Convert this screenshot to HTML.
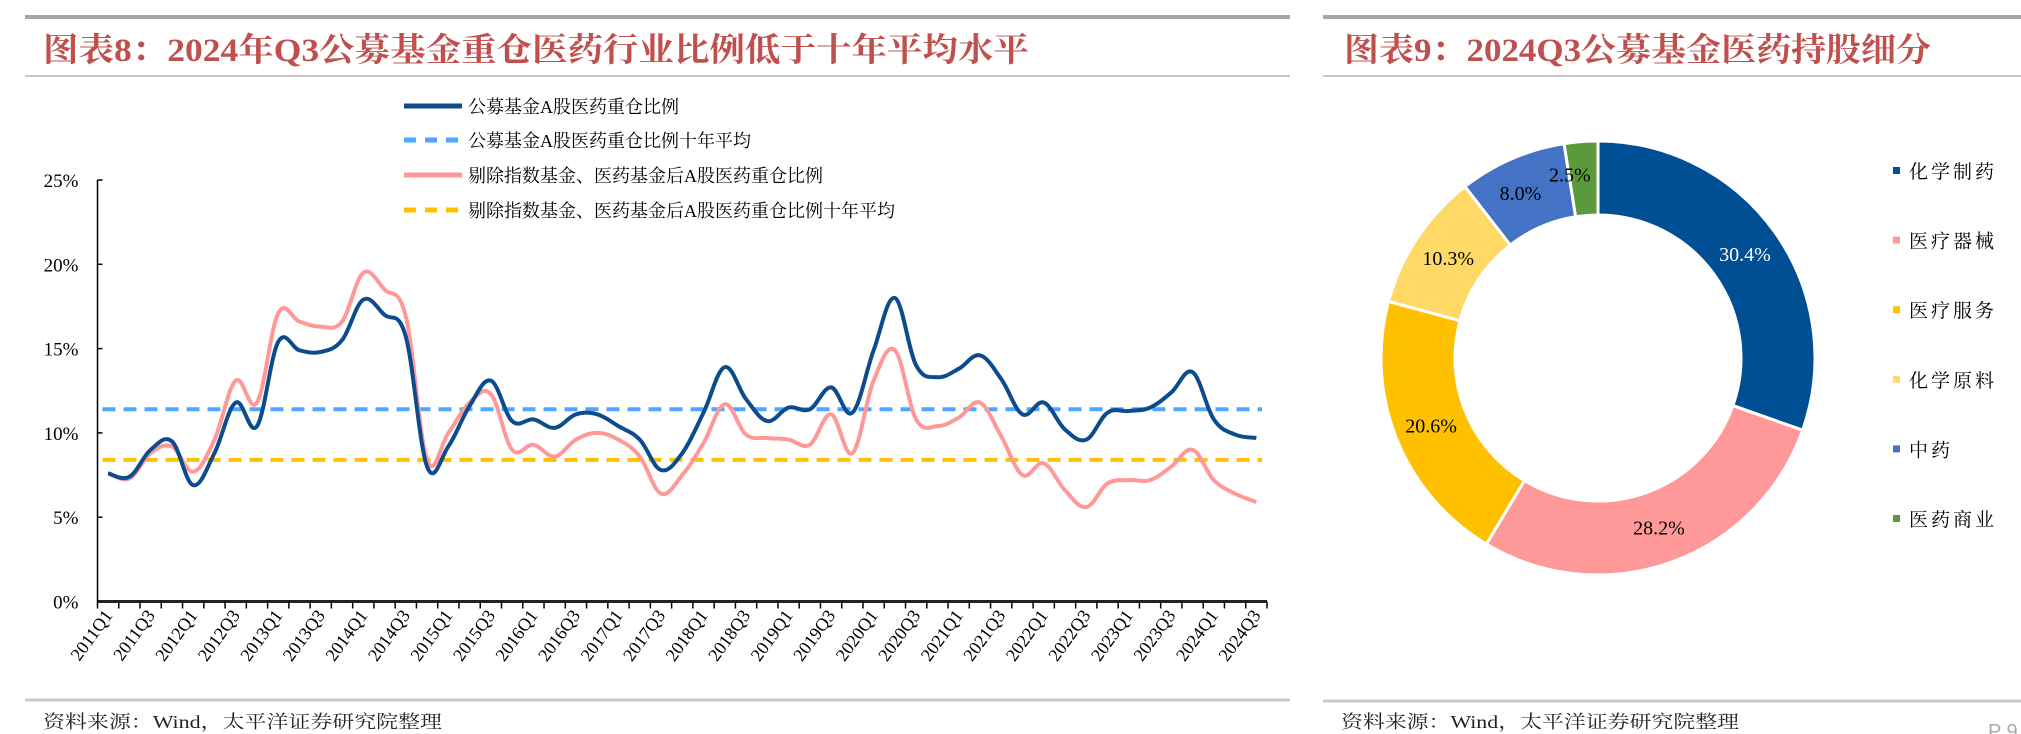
<!DOCTYPE html>
<html><head><meta charset="utf-8"><style>
html,body{margin:0;padding:0;background:#fff;}
svg{display:block;}
</style></head><body>
<svg id="root" width="2021" height="734" viewBox="0 0 2021 734" xmlns="http://www.w3.org/2000/svg">
<g>
<line x1="25" y1="17" x2="1290" y2="17" stroke="#a6a6a6" stroke-width="4"/>
<text x="43" y="61" font-family="Liberation Serif, Noto Serif CJK SC, serif" font-weight="bold" font-size="33" fill="#c0504d" textLength="986" lengthAdjust="spacingAndGlyphs">图表8：2024年Q3公募基金重仓医药行业比例低于十年平均水平</text>
<line x1="25" y1="76" x2="1290" y2="76" stroke="#c8c8c8" stroke-width="2"/>
<g id="lineChart"></g>
<line x1="25" y1="700" x2="1290" y2="700" stroke="#c8c8c8" stroke-width="3"/>
<text x="43" y="728" font-family="Liberation Serif, Noto Serif CJK SC, serif" font-size="18" fill="#222" textLength="399" lengthAdjust="spacingAndGlyphs">资料来源：Wind，太平洋证券研究院整理</text>
</g>
<g>
<line x1="1323" y1="17" x2="2021" y2="17" stroke="#a6a6a6" stroke-width="4"/>
<text x="1344" y="61" font-family="Liberation Serif, Noto Serif CJK SC, serif" font-weight="bold" font-size="33" fill="#c0504d" textLength="587" lengthAdjust="spacingAndGlyphs">图表9：2024Q3公募基金医药持股细分</text>
<line x1="1323" y1="76" x2="2021" y2="76" stroke="#c8c8c8" stroke-width="2"/>
<g id="donut"></g>
<line x1="1323" y1="701" x2="2021" y2="701" stroke="#c8c8c8" stroke-width="3"/>
<text x="1341" y="728" font-family="Liberation Serif, Noto Serif CJK SC, serif" font-size="18" fill="#222" textLength="398" lengthAdjust="spacingAndGlyphs">资料来源：Wind，太平洋证券研究院整理</text>
<text x="1988" y="738" font-family="Liberation Sans, sans-serif" font-size="20" fill="#aaa">P 9</text>
</g>
</svg>
<script>
const categories=[];
for(let y=2011;y<=2024;y++)for(let q=1;q<=4;q++){if(y===2024&&q>3)break;categories.push(y+'Q'+q);}
const seriesAll=[7.6,7.4,9.0,9.5,6.9,8.8,11.8,10.4,15.4,14.9,14.8,15.5,17.9,17.0,15.7,8.0,9.2,11.6,13.1,10.7,10.8,10.3,11.1,11.1,10.4,9.6,7.8,8.8,11.2,13.9,12.0,10.7,11.5,11.4,12.7,11.2,14.9,18.0,14.0,13.3,13.8,14.6,13.2,11.1,11.8,10.2,9.6,11.2,11.3,11.5,12.4,13.6,10.8,9.9,9.7];
const seriesExcl=[7.6,7.3,8.8,9.2,7.7,9.6,13.1,11.8,17.1,16.6,16.3,16.6,19.5,18.5,16.9,8.4,10.0,11.8,12.3,9.0,9.3,8.6,9.6,10.0,9.6,8.6,6.4,7.5,9.4,11.7,9.9,9.7,9.6,9.3,11.1,8.8,13.1,14.9,10.8,10.4,10.9,11.8,9.8,7.5,8.2,6.6,5.6,7.0,7.2,7.2,8.0,9.0,7.2,6.4,5.9];
const avgAll=11.4;
const avgExcl=8.4;
const yTicks=[0,5,10,15,20,25];
const legendLabels=['公募基金A股医药重仓比例','公募基金A股医药重仓比例十年平均','剔除指数基金、医药基金后A股医药重仓比例','剔除指数基金、医药基金后A股医药重仓比例十年平均'];
const sliceLabels=['化学制药','医疗器械','医疗服务','化学原料','中药','医药商业'];
const sliceValues=[30.4,28.2,20.6,10.3,8.0,2.5];

const NS='http://www.w3.org/2000/svg';
function mk(tag,attrs,parent){const e=document.createElementNS(NS,tag);for(const k in attrs)e.setAttribute(k,attrs[k]);parent.appendChild(e);return e;}
const g=document.getElementById('lineChart');
const X0=97.5,X1=1267,Y0=601.5,Y1=180;
const band=(X1-X0)/categories.length;
const xs=i=>X0+band*(i+0.5);
const ys=v=>Y0-(v/25)*(Y0-Y1);
const serif='Liberation Serif, Noto Serif CJK SC, serif';
const ya=mk('line',{x1:X0,y1:Y1,x2:X0,y2:Y0,stroke:'#000','stroke-width':1.5},g);


yTicks.forEach(t=>{
 const tk=mk('line',{x1:X0,y1:ys(t),x2:X0+5,y2:ys(t),stroke:'#000','stroke-width':1.5},g);
 
 
 const tl=mk('text',{x:X0-19,y:ys(t)+7,'text-anchor':'end','font-family':serif,'font-size':19,fill:'#000'},g);
 tl.textContent=t+'%';
 
 
});
const xa=mk('line',{x1:X0,y1:Y0,x2:X1,y2:Y0,stroke:'#222','stroke-width':3},g);


for(let i=0;i<=categories.length;i++){
 const tk=mk('line',{x1:X0+band*i,y1:Y0,x2:X0+band*i,y2:Y0+7,stroke:'#000','stroke-width':1.5},g);
 
 
}
categories.forEach((c,i)=>{
 if(i%2)return;
 const x=xs(i)+5,y=Y0+14;
 const tl=mk('text',{x:x,y:y,'text-anchor':'end','font-family':serif,'font-size':18,fill:'#000',transform:`rotate(-54 ${x} ${y})`},g);
 tl.textContent=c;
 
 
});
function smooth(vals){
 const p=vals.map((v,i)=>[xs(i),ys(v)]);
 let d=`M${p[0][0]},${p[0][1]}`;
 for(let i=0;i<p.length-1;i++){
  const a=p[i-1]||p[i],b=p[i],c=p[i+1],e=p[i+2]||c;
  const t=0.18;
  d+=` C${b[0]+(c[0]-a[0])*t},${b[1]+(c[1]-a[1])*t} ${c[0]-(e[0]-b[0])*t},${c[1]-(e[1]-b[1])*t} ${c[0]},${c[1]}`;
 }
 return d;
}
const la=mk('line',{x1:X0+5,y1:ys(avgAll),x2:X1-5,y2:ys(avgAll),stroke:'#4da6ff','stroke-width':4,'stroke-dasharray':'13 8'},g);


const le=mk('line',{x1:X0+5,y1:ys(avgExcl),x2:X1-5,y2:ys(avgExcl),stroke:'#ffc000','stroke-width':4,'stroke-dasharray':'13 8'},g);


const pe=mk('path',{d:smooth(seriesExcl),fill:'none',stroke:'#ff9999','stroke-width':4,'stroke-linejoin':'round'},g);


const pa=mk('path',{d:smooth(seriesAll),fill:'none',stroke:'#0d4c8c','stroke-width':4,'stroke-linejoin':'round'},g);


const lcol=['#0d4c8c','#4da6ff','#ff9999','#ffc000'];
const ldash=[null,'12 9',null,'12 9'];
const ly=[106,140,175,210];
legendLabels.forEach((t,i)=>{
 const ln=mk('line',{x1:404,y1:ly[i],x2:462,y2:ly[i],stroke:lcol[i],'stroke-width':5},g);
 if(ldash[i])ln.setAttribute('stroke-dasharray',ldash[i]);
 
 
 const tx=mk('text',{x:468,y:ly[i]+7,'font-family':serif,'font-size':18,fill:'#000'},g);
 tx.textContent=t;
 
 
});
const dg=document.getElementById('donut');
const CX=1598,CY=358,RO=217,RI=143;
const scol=['#004f95','#ff9999','#ffc000','#ffd966','#4472c4','#5b9a3c'];
const total=sliceValues.reduce((a,b)=>a+b,0);
let ang=0;
sliceValues.forEach((v,i)=>{
 const a0=ang,a1=ang+v/total*2*Math.PI;ang=a1;
 const P=(r,a)=>[CX+r*Math.sin(a),CY-r*Math.cos(a)];
 const [x0,y0]=P(RO,a0),[x1,y1]=P(RO,a1),[x2,y2]=P(RI,a1),[x3,y3]=P(RI,a0);
 const lg=(a1-a0)>Math.PI?1:0;
 const s=mk('path',{d:`M${x0},${y0} A${RO},${RO} 0 ${lg} 1 ${x1},${y1} L${x2},${y2} A${RI},${RI} 0 ${lg} 0 ${x3},${y3}Z`,fill:scol[i],stroke:'#fff','stroke-width':3},dg);
 
 
 const am=(a0+a1)/2;
 let [lx,ly2]=P((RO+RI)/2,am);
 if(i===5){lx-=14;ly2-=4;}
 if(i===4){lx-=6;}
 const tl=mk('text',{x:lx,y:ly2+7,'text-anchor':'middle','font-family':serif,'font-size':20,fill:i===0?'#fff':'#000'},dg);
 tl.textContent=v.toFixed(1)+'%';
 
 
 const ry=171+i*69.6;
 const sq=mk('rect',{x:1893,y:ry-4,width:7,height:7,fill:scol[i]},dg);
 
 
 const lt=mk('text',{x:1909,y:ry+7,'font-family':serif,'font-size':19,'letter-spacing':3,fill:'#000'},dg);
 lt.textContent=sliceLabels[i];
 
 
});
</script>
</body></html>
